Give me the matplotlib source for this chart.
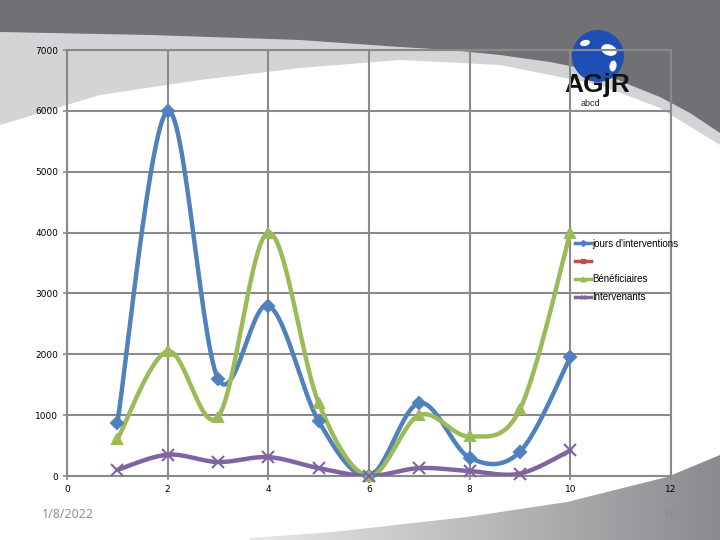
import numpy as np
import matplotlib
matplotlib.use("Agg")
import matplotlib.pyplot as plt
from matplotlib.patches import Polygon, Circle, Ellipse
from matplotlib.lines import Line2D

# Data
x_vals = [1, 2, 3, 4, 5, 6, 7, 8, 9, 10]
jours = [870, 6000, 1600, 2800, 900, 0, 1200, 300, 400, 1950]
benef = [600, 2050, 970, 4000, 1200, 0, 1000, 650, 1100, 4000]
interv = [100, 350, 230, 310, 130, 0, 130, 80, 40, 420]
labels = ["jours d'interventions", "", "Bénéficiaires", "Intervenants"]
x_ticks = [0, 2, 4, 6, 8, 10, 12]
y_ticks = [0, 1000, 2000, 3000, 4000, 5000, 6000, 7000]

BLUE = "#4f81bd"
RED = "#c0504d"
GREEN = "#9bbb59"
PURPLE = "#8064a2"


def smooth(xs, ys, n=30):
    # Excel-like smoothed line (Catmull-Rom through the points)
    xs = np.asarray(xs, float)
    ys = np.asarray(ys, float)
    px = np.concatenate([[xs[0]], xs, [xs[-1]]])
    py = np.concatenate([[ys[0]], ys, [ys[-1]]])
    out_x, out_y = [], []
    t = np.linspace(0, 1, n)
    for i in range(1, len(px) - 2):
        p0x, p1x = px[i], px[i + 1]
        p0y, p1y = py[i], py[i + 1]
        c1x = p0x + (px[i + 1] - px[i - 1]) / 6
        c1y = p0y + (py[i + 1] - py[i - 1]) / 6
        c2x = p1x - (px[i + 2] - px[i]) / 6
        c2y = p1y - (py[i + 2] - py[i]) / 6
        bx = (1 - t) ** 3 * p0x + 3 * (1 - t) ** 2 * t * c1x + 3 * (1 - t) * t ** 2 * c2x + t ** 3 * p1x
        by = (1 - t) ** 3 * p0y + 3 * (1 - t) ** 2 * t * c1y + 3 * (1 - t) * t ** 2 * c2y + t ** 3 * p1y
        out_x.extend(bx)
        out_y.extend(by)
    return np.array(out_x), np.array(out_y)


fig = plt.figure(figsize=(7.2, 5.4), dpi=100)
fig.patch.set_facecolor("white")

# slide background in pixel coordinates
bg = fig.add_axes([0, 0, 1, 1])
bg.set_xlim(0, 720)
bg.set_ylim(540, 0)
bg.axis("off")

light = [(0, 0), (720, 0), (720, 145), (660, 108), (600, 85), (500, 65), (400, 60),
         (300, 68), (200, 80), (100, 95), (0, 125)]
bg.add_patch(Polygon(light, closed=True, facecolor="#d3d4d6", edgecolor="none"))
dark = [(0, 0), (720, 0), (720, 133), (690, 113), (660, 97), (630, 85), (600, 72),
        (550, 62), (500, 55), (450, 50), (400, 47), (300, 40), (150, 35), (0, 32)]
bg.add_patch(Polygon(dark, closed=True, facecolor="#707175", edgecolor="none"))

# bottom-right swoosh with a simple gradient
sw_x = np.array([250, 333, 467, 567, 667, 720])
sw_y = np.array([538, 532, 517, 502, 477, 455])
grad = np.linspace(0, 1, 256).reshape(1, -1)
im = bg.imshow(grad, extent=[200, 720, 540, 440], cmap=matplotlib.colors.LinearSegmentedColormap.from_list(
    "g", ["#f2f2f2", "#8a8b8e"]), aspect="auto", zorder=1)
clip = Polygon(list(zip(sw_x, sw_y)) + [(720, 540), (250, 540)], closed=True, transform=bg.transData)
im.set_clip_path(clip)

# logo
bg.add_patch(Circle((598, 56), 26, facecolor="#1f4fb5", edgecolor="none", zorder=3))
bg.add_patch(Ellipse((609, 50), 16, 11, angle=20, facecolor="white", edgecolor="none", zorder=4))
bg.add_patch(Ellipse((585, 43), 10, 6, angle=-15, facecolor="white", edgecolor="none", zorder=4))
bg.add_patch(Ellipse((613, 66), 7, 11, angle=10, facecolor="white", edgecolor="none", zorder=4))
bg.text(597, 85, "AGjR", ha="center", va="center", fontsize=19, fontweight="bold",
        color="#111111", family="Liberation Sans", zorder=5)
bg.text(590, 104, "abcd", ha="center", va="center", fontsize=6.5, color="#222222",
        family="Liberation Sans", zorder=5)

# footer
bg.text(42, 515, "1/8/2022", ha="left", va="center", fontsize=9, color="#8c8c8c",
        family="Open Sans")
bg.text(670, 514, "16", ha="center", va="center", fontsize=9, color="#8c8c8c",
        family="Open Sans")

# chart
ax = fig.add_axes([67 / 720, 1 - 476 / 540, (671 - 67) / 720, (476 - 50) / 540])
ax.patch.set_alpha(0)
ax.set_xlim(0, 12)
ax.set_ylim(0, 7000)
ax.set_xticks(x_ticks)
ax.set_yticks(y_ticks)
ax.grid(True, color="#8a8a8a", linewidth=1.5)
for s in ax.spines.values():
    s.set_color("#8a8a8a")
    s.set_linewidth(1.5)
ax.tick_params(colors="#8a8a8a", labelcolor="black", labelsize=6.5, length=3, width=1.2)
ax.set_axisbelow(True)

series = [(jours, BLUE, "D", 6), (benef, GREEN, "^", 7), (interv, PURPLE, "x", 8)]
for ys, col, mk, ms in series:
    sx, sy = smooth(x_vals, ys)
    ax.plot(sx, sy, color=col, linewidth=3.2, solid_capstyle="round", zorder=3)
    ax.plot(x_vals, ys, linestyle="none", marker=mk, markersize=ms, color=col,
            markeredgecolor=col, markeredgewidth=1.5, zorder=4, clip_on=False)

handles = [
    Line2D([], [], color=BLUE, linewidth=2.5, marker="D", markersize=3),
    Line2D([], [], color=RED, linewidth=2.5, marker="s", markersize=3),
    Line2D([], [], color=GREEN, linewidth=2.5, marker="^", markersize=3.5),
    Line2D([], [], color=PURPLE, linewidth=2.5, marker="x", markersize=3.5),
]
leg = fig.legend(handles, labels, loc="upper left", bbox_to_anchor=(571 / 720, 1 - 235 / 540),
                 frameon=False, handlelength=1.7, handletextpad=0.1,
                 labelspacing=0.8, borderaxespad=0, prop={"family": "Liberation Sans", "size": 7})

fig.savefig("out.png", dpi=100)
